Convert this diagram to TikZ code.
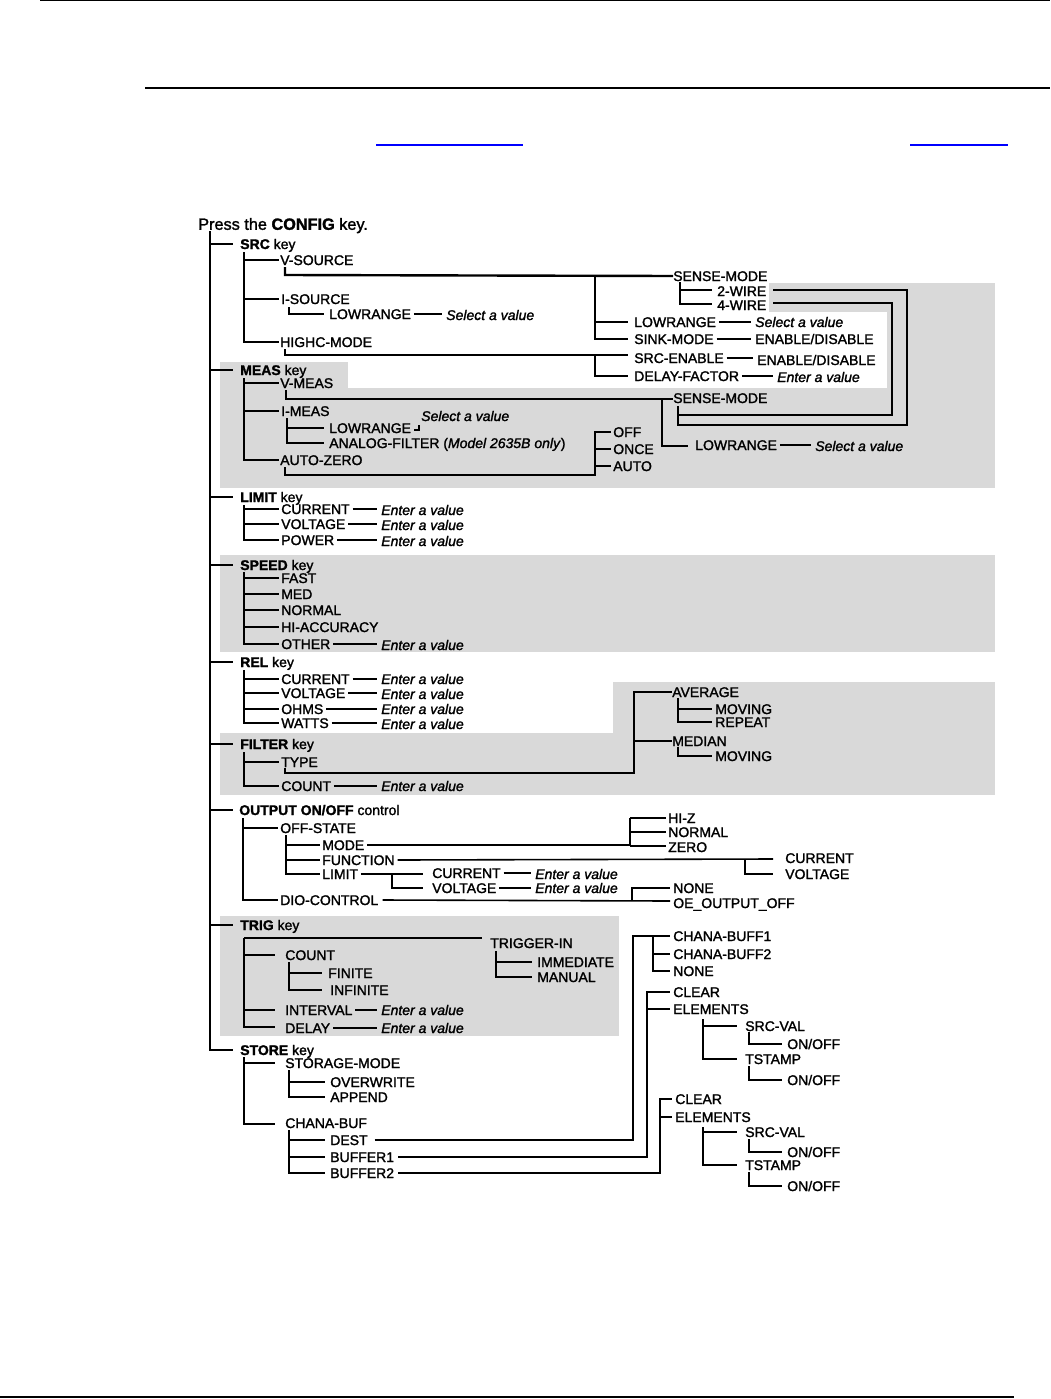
\documentclass[tikz,border=0pt]{standalone}
\usepackage{fontspec}
\setmainfont{Liberation Sans}[RawFeature={embolden=1.6}]
\definecolor{panel}{RGB}{217,217,217}
\definecolor{linkblue}{RGB}{0,0,255}
\newcommand\conn[2]{\draw[ln] ([xshift=2pt]#1.east) -- ([xshift=-3pt]#1.east -| #2.west);}
\begin{document}
\begin{tikzpicture}[x=0.75pt,y=-0.75pt,
  t/.style={anchor=west, inner sep=0pt, text height=7.5pt, text depth=0pt, font=\fontsize{10.5}{12}\selectfont},
  v/.style={t, font=\fontsize{10.5}{12}\selectfont\itshape},
  ln/.style={line width=1.8pt},
  tn/.style={line width=1.2pt}]
\useasboundingbox (0,0) rectangle (1050,1399);
% page rules
\draw[line width=1.1pt] (40,0.7) -- (1050,0.7);
\draw[line width=1.1pt] (145,88) -- (1050,88);
\draw[linkblue, line width=1.6pt] (376,145) -- (523,145);
\draw[linkblue, line width=1.6pt] (910,145) -- (1008,145);
\draw[line width=1.5pt] (0,1397) -- (1014,1397);
% grey panels
\fill[panel] (769,283) rectangle (995,312);
\fill[panel] (887,312) rectangle (995,388);
\fill[panel] (220,388) rectangle (995,488);
\fill[panel] (220,362) rectangle (348,388);
\fill[panel] (220,555) rectangle (995,652);
\fill[panel] (613,682) rectangle (995,733);
\fill[panel] (220,733) rectangle (995,795);
\fill[panel] (220,916) rectangle (619,1036);

% header and spine
\node[t, font=\fontsize{12.2}{14}\selectfont, text height=8.7pt] (hdr) at (198,224) {Press the \textbf{CONFIG} key.};
\draw[ln] (210,231) -- (210,1050) -- (233,1050);
\foreach \yy in {244,370,497,565,662,744,810,925} \draw[ln] (210,\yy) -- (233,\yy);

% ---------------- SRC
\node[t] (srck) at (240,244) {\textbf{SRC} key};
\draw[ln] (244,252) -- (244,342) -- (279,342);
\draw[ln] (244,260) -- (279,260);
\draw[ln] (244,299) -- (279,299);
\node[t] (vsrc) at (280,260) {V-SOURCE};
\node[t] (isrc) at (281,299) {I-SOURCE};
\node[t] (highc) at (280,342) {HIGHC-MODE};
\draw[ln] (289,307) -- (289,314) -- (324,314);
\node[t] (islr) at (329,314) {LOWRANGE};
\node[v] (islrv) at (446,315) {Select a value};
\conn{islr}{islrv}
\node[t] (sm1) at (673,276) {SENSE-MODE};
\draw[ln] (285,267) -- (285,275) -- (sm1.west);
\draw[ln] (595,275) -- (595,339) -- (628,339);
\draw[ln] (595,322) -- (628,322);
\node[t] (lr2) at (634,322) {LOWRANGE};
\node[v] (lr2v) at (755,322) {Select a value};
\conn{lr2}{lr2v}
\node[t] (sink) at (634,339) {SINK-MODE};
\node[t] (sinkv) at (755,339) {ENABLE/DISABLE};
\conn{sink}{sinkv}
\draw[ln] (680,282) -- (680,304) -- (712,304);
\draw[ln] (680,290) -- (712,290);
\node[t] (w2) at (717,291) {2-WIRE};
\node[t] (w4) at (717,305) {4-WIRE};
\node[t] (sm2) at (673,398) {SENSE-MODE};
\draw[ln] ([xshift=5pt]w2.east |- 0,290) -- (907,290) -- (907,425) -- (678,425) -- (678,406);
\draw[ln] ([xshift=5pt]w4.east |- 0,303) -- (892,303) -- (892,415) -- (678,415);
\node[t] (srcen) at (634,358) {SRC-ENABLE};
\node[t] (srcenv) at (757,360) {ENABLE/DISABLE};
\conn{srcen}{srcenv}
\node[t] (dfac) at (634,376) {DELAY-FACTOR};
\node[v] (dfacv) at (777,377) {Enter a value};
\conn{dfac}{dfacv}
\draw[ln] (285,349) -- (285,355) -- (628,355);
\draw[ln] (595,355) -- (595,376) -- (628,376);

% ---------------- MEAS
\node[t] (meask) at (240,370) {\textbf{MEAS} key};
\draw[ln] (244,378) -- (244,460) -- (279,460);
\draw[ln] (244,383) -- (279,383);
\draw[ln] (244,411) -- (279,411);
\node[t] (vmeas) at (280,383) {V-MEAS};
\node[t] (imeas) at (281,411) {I-MEAS};
\node[t] (az) at (280,460) {AUTO-ZERO};
\draw[ln] (286,390) -- (286,399) -- (sm2.west |- 0,399);
\node[t] (lr3) at (695,445) {LOWRANGE};
\node[v] (lr3v) at (815,446) {Select a value};
\conn{lr3}{lr3v}
\draw[ln] (662,399) -- (662,446) -- (688,446);
\draw[ln] (287,418) -- (287,443) -- (324,443);
\draw[ln] (287,428) -- (324,428);
\node[t] (imlr) at (329,428) {LOWRANGE};
\node[t] (imaf) at (329,443) {ANALOG-FILTER (\textit{Model 2635B only})};
\node[v] (imlrv) at (421,416) {Select a value};
\draw[tn] (414,430) -- (419,430) -- (419,425);
\node[t] (off) at (613,432) {OFF};
\node[t] (once) at (613,449) {ONCE};
\node[t] (auto) at (613,466) {AUTO};
\draw[ln] (285,467) -- (285,475) -- (595,475) -- (595,432) -- (611,432);
\draw[ln] (595,449) -- (611,449);
\draw[ln] (595,466) -- (611,466);

% ---------------- LIMIT
\node[t] (limk) at (240,497) {\textbf{LIMIT} key};
\draw[ln] (244,505) -- (244,540) -- (279,540);
\draw[ln] (244,509) -- (279,509);
\draw[ln] (244,524) -- (279,524);
\node[t] (lcur) at (281,509) {CURRENT};
\node[v] (lcurv) at (381,510) {Enter a value};
\conn{lcur}{lcurv}
\node[t] (lvol) at (281,524) {VOLTAGE};
\node[v] (lvolv) at (381,525) {Enter a value};
\conn{lvol}{lvolv}
\node[t] (lpow) at (281,540) {POWER};
\node[v] (lpowv) at (381,541) {Enter a value};
\conn{lpow}{lpowv}

% ---------------- SPEED
\node[t] (spdk) at (240,565) {\textbf{SPEED} key};
\draw[ln] (244,572) -- (244,644) -- (279,644);
\foreach \yy in {578,594,610,627} \draw[ln] (244,\yy) -- (279,\yy);
\node[t] (fast) at (281,578) {FAST};
\node[t] (med) at (281,594) {MED};
\node[t] (normal) at (281,610) {NORMAL};
\node[t] (hiacc) at (281,627) {HI-ACCURACY};
\node[t] (other) at (281,644) {OTHER};
\node[v] (otherv) at (381,645) {Enter a value};
\conn{other}{otherv}

% ---------------- REL
\node[t] (relk) at (240,662) {\textbf{REL} key};
\draw[ln] (244,670) -- (244,723) -- (279,723);
\foreach \yy in {679,693,709} \draw[ln] (244,\yy) -- (279,\yy);
\node[t] (rcur) at (281,679) {CURRENT};
\node[v] (rcurv) at (381,679) {Enter a value};
\conn{rcur}{rcurv}
\node[t] (rvol) at (281,693) {VOLTAGE};
\node[v] (rvolv) at (381,694) {Enter a value};
\conn{rvol}{rvolv}
\node[t] (rohm) at (281,709) {OHMS};
\node[v] (rohmv) at (381,709) {Enter a value};
\conn{rohm}{rohmv}
\node[t] (rwat) at (281,723) {WATTS};
\node[v] (rwatv) at (381,724) {Enter a value};
\conn{rwat}{rwatv}

% ---------------- FILTER
\node[t] (filk) at (240,744) {\textbf{FILTER} key};
\draw[ln] (244,752) -- (244,786) -- (279,786);
\draw[ln] (244,762) -- (279,762);
\node[t] (ftype) at (281,762) {TYPE};
\node[t] (fcount) at (281,786) {COUNT};
\node[v] (fcountv) at (381,786) {Enter a value};
\conn{fcount}{fcountv}
\node[t] (avg) at (672,692) {AVERAGE};
\node[t] (median) at (672,741) {MEDIAN};
\draw[ln] (285,768) -- (285,773) -- (634,773) -- (634,692) -- (avg.west);
\draw[ln] (634,741) -- (median.west);
\node[t] (mov1) at (715,709) {MOVING};
\node[t] (rep) at (715,722) {REPEAT};
\node[t] (mov2) at (715,756) {MOVING};
\draw[ln] (678,698) -- (678,722) -- (712,722);
\draw[ln] (678,709) -- (712,709);
\draw[ln] (678,747) -- (678,756) -- (712,756);

% ---------------- OUTPUT
\node[t] (outk) at (239,810) {\textbf{OUTPUT ON/OFF} control};
\draw[ln] (243,818) -- (243,900) -- (278,900);
\draw[ln] (243,828) -- (278,828);
\node[t] (offst) at (280,828) {OFF-STATE};
\node[t] (dio) at (280,900) {DIO-CONTROL};
\draw[ln] (286,835) -- (286,874) -- (320,874);
\draw[ln] (286,845) -- (320,845);
\draw[ln] (286,860) -- (320,860);
\node[t] (mode) at (322,845) {MODE};
\node[t] (func) at (322,860) {FUNCTION};
\node[t] (olim) at (322,874) {LIMIT};
\node[t] (hiz) at (668,818) {HI-Z};
\node[t] (onorm) at (668,832) {NORMAL};
\node[t] (zero) at (668,847) {ZERO};
\draw[ln] ([xshift=2pt]mode.east) -- (630,845);
\draw[ln] (630,818) -- (630,846);
\draw[ln] (630,818) -- (666,818);
\draw[ln] (630,832) -- (666,832);
\draw[ln] (630,846) -- (666,846);
\node[t] (fcur) at (785,858) {CURRENT};
\node[t] (fvol) at (785,874) {VOLTAGE};
\draw[tn] ([xshift=2pt]func.east) -- (773,859);
\draw[ln] (745,859) -- (745,874) -- (773,874);
\node[t] (olcur) at (432,873) {CURRENT};
\node[t] (olvol) at (432,888) {VOLTAGE};
\draw[ln] ([xshift=2pt]olim.east) -- (423,874);
\draw[ln] (392,874) -- (392,888) -- (423,888);
\node[v] (olcurv) at (535,874) {Enter a value};
\conn{olcur}{olcurv}
\node[v] (olvolv) at (535,888) {Enter a value};
\conn{olvol}{olvolv}
\node[t] (none1) at (673,888) {NONE};
\node[t] (oeoff) at (673,903) {OE\_OUTPUT\_OFF};
\draw[tn] ([xshift=3pt]dio.east) -- (670,901);
\draw[ln] (632,901) -- (632,888) -- (670,888);

% ---------------- TRIG
\node[t] (trigk) at (240,925) {\textbf{TRIG} key};
\draw[ln] (244,938) -- (244,1027) -- (275,1027);
\draw[ln] (244,938) -- (482,938);
\draw[ln] (244,955) -- (275,955);
\draw[ln] (244,1010) -- (275,1010);
\node[t] (trigin) at (490,943) {TRIGGER-IN};
\node[t] (immed) at (537,962) {IMMEDIATE};
\node[t] (manual) at (537,977) {MANUAL};
\draw[ln] (496,951) -- (496,977) -- (532,977);
\draw[ln] (496,962) -- (532,962);
\node[t] (tcount) at (285,955) {COUNT};
\node[t] (finite) at (328,973) {FINITE};
\node[t] (infinite) at (330,990) {INFINITE};
\draw[ln] (289,962) -- (289,990) -- (322,990);
\draw[ln] (289,973) -- (322,973);
\node[t] (interval) at (285,1010) {INTERVAL};
\node[v] (intervalv) at (381,1010) {Enter a value};
\conn{interval}{intervalv}
\node[t] (delay) at (285,1028) {DELAY};
\node[v] (delayv) at (381,1028) {Enter a value};
\conn{delay}{delayv}

% ---------------- STORE
\node[t] (storek) at (240,1050) {\textbf{STORE} key};
\draw[ln] (244,1057) -- (244,1124) -- (275,1124);
\draw[ln] (244,1063) -- (275,1063);
\node[t] (stmode) at (285,1063) {STORAGE-MODE};
\node[t] (overw) at (330,1082) {OVERWRITE};
\node[t] (append) at (330,1097) {APPEND};
\draw[ln] (289,1070) -- (289,1097) -- (325,1097);
\draw[ln] (289,1082) -- (325,1082);
\node[t] (chbuf) at (285,1123) {CHANA-BUF};
\node[t] (dest) at (330,1140) {DEST};
\node[t] (buf1) at (330,1157) {BUFFER1};
\node[t] (buf2) at (330,1173) {BUFFER2};
\draw[ln] (289,1130) -- (289,1173) -- (325,1173);
\draw[ln] (289,1140) -- (325,1140);
\draw[ln] (289,1157) -- (325,1157);
% DEST targets
\node[t] (cb1) at (673,936) {CHANA-BUFF1};
\node[t] (cb2) at (673,954) {CHANA-BUFF2};
\node[t] (none2) at (673,971) {NONE};
\draw[ln] ([xshift=5pt]dest.east) -- (633,1140) -- (633,936) -- (670,936);
\draw[ln] (653,936) -- (653,971) -- (670,971);
\draw[ln] (653,954) -- (670,954);
% BUFFER1 targets
\node[t] (clr1) at (673,992) {CLEAR};
\node[t] (el1) at (673,1009) {ELEMENTS};
\draw[ln] ([xshift=3pt]buf1.east) -- (647,1157) -- (647,992) -- (670,992);
\draw[ln] (647,1009) -- (670,1009);
\node[t] (sv1) at (745,1026) {SRC-VAL};
\node[t] (ts1) at (745,1059) {TSTAMP};
\draw[ln] (703,1019) -- (703,1059) -- (737,1059);
\draw[ln] (703,1026) -- (737,1026);
\node[t] (oo1) at (787,1044) {ON/OFF};
\node[t] (oo2) at (787,1080) {ON/OFF};
\draw[ln] (749,1032) -- (749,1044) -- (782,1044);
\draw[ln] (749,1066) -- (749,1080) -- (782,1080);
% BUFFER2 targets
\node[t] (clr2) at (675,1099) {CLEAR};
\node[t] (el2) at (675,1117) {ELEMENTS};
\draw[ln] ([xshift=3pt]buf2.east) -- (660,1173) -- (660,1099) -- (672,1099);
\draw[ln] (660,1117) -- (672,1117);
\node[t] (sv2) at (745,1132) {SRC-VAL};
\node[t] (ts2) at (745,1165) {TSTAMP};
\draw[ln] (703,1127) -- (703,1165) -- (737,1165);
\draw[ln] (703,1132) -- (737,1132);
\node[t] (oo3) at (787,1152) {ON/OFF};
\node[t] (oo4) at (787,1186) {ON/OFF};
\draw[ln] (749,1139) -- (749,1152) -- (782,1152);
\draw[ln] (749,1172) -- (749,1186) -- (782,1186);
\end{tikzpicture}
\end{document}
